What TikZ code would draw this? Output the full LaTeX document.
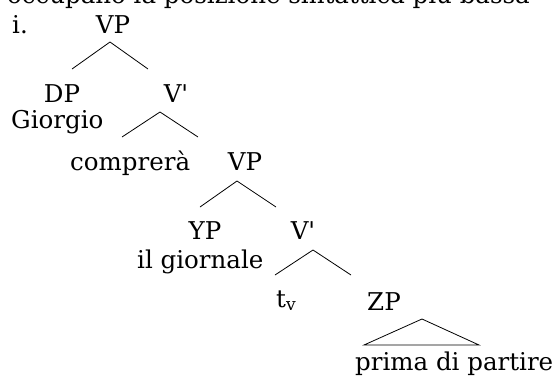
\documentclass[tikz,border=0pt]{standalone}
\usepackage{fontspec}
\setmainfont{DejaVu Serif}
\begin{document}
\begin{tikzpicture}[x=1pt,y=-1pt,
  lbl/.style={inner sep=0pt,anchor=base,font=\fontsize{24.5}{28}\selectfont},
  lblw/.style={inner sep=0pt,anchor=base west,font=\fontsize{24.5}{28}\selectfont},
  branch/.style={draw=black,line width=0.8pt}]
\useasboundingbox (0,0) rectangle (560,381);
\clip (0,0) rectangle (560,381);
\fill[white] (0,0) rectangle (560,381);
% partially visible line above
\node[lblw] (top) at (7,3) {occupano la posizione sintattica più bassa};
\node[lblw] (num) at (12,33) {i.};
% level 1
\node[lbl] (vp1) at (113,33) {VP};
\coordinate (a1) at (110,42);
\coordinate (l1) at (72,69);
\coordinate (r1) at (148,69);
\draw[branch] (l1) -- (a1) -- (r1);
\node[lbl] (dp) at (62,102) {DP};
\node[lbl] (vbar1) at (176,102) {V\textquotesingle};
\node[lblw] (giorgio) at (11,128) {Giorgio};
% level 2
\coordinate (a2) at (160,112);
\coordinate (l2) at (122,137);
\coordinate (r2) at (198,137);
\draw[branch] (l2) -- (a2) -- (r2);
\node[lblw] (comprera) at (70,170) {comprerà};
\node[lbl] (vp2) at (245,170) {VP};
% level 3
\coordinate (a3) at (237,181);
\coordinate (l3) at (200,207);
\coordinate (r3) at (276,207);
\draw[branch] (l3) -- (a3) -- (r3);
\node[lbl] (yp) at (205,239) {YP};
\node[lbl] (vbar2) at (303,239) {V\textquotesingle};
\node[lblw] (giornale) at (137,268) {il giornale};
% level 4
\coordinate (a4) at (313,250);
\coordinate (l4) at (275,275);
\coordinate (r4) at (351,275);
\draw[branch] (l4) -- (a4) -- (r4);
\node[lblw] (tv) at (276,307) {t\textsubscript{v}};
\node[lbl] (zp) at (384,310) {ZP};
% triangle
\coordinate (a5) at (422,319);
\coordinate (l5) at (364,345);
\coordinate (r5) at (479,345);
\draw[branch] (a5) -- (l5) -- (r5) -- cycle;
\node[lblw] (prima) at (355,370) {prima di partire};
\end{tikzpicture}
\end{document}
